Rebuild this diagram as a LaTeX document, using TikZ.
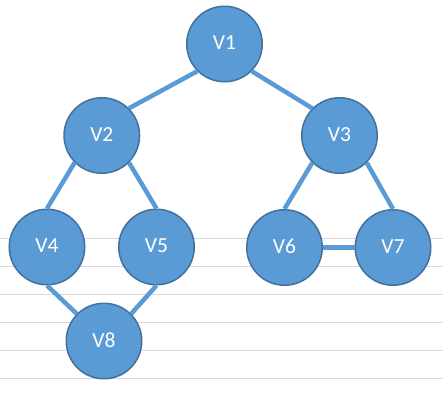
\documentclass[tikz,border=0pt]{standalone}
\usepackage{fontspec}
\setmainfont{Carlito}
\definecolor{vfill}{HTML}{5B9BD5}
\definecolor{vborder}{HTML}{41719C}
\definecolor{gridc}{HTML}{D9D9D9}
\tikzset{
  vertex/.style={circle, fill=vfill, draw=vborder, line width=1.5pt, minimum size=75.5pt, inner sep=0pt, text=white, font=\fontsize{21.5}{24}\selectfont},
  edgeline/.style={draw=vfill, line width=4.5pt},
  gridline/.style={draw=gridc, line width=1pt}
}
\begin{document}
\begin{tikzpicture}[x=1pt,y=-1pt]
\useasboundingbox (0,0) rectangle (443,394);
\foreach \gy in {238,266,294,322,350,378}{
  \draw[gridline] (0,\gy) -- (443,\gy);
}
\node[vertex] (v1) at (224.5,44) {\raisebox{2.5pt}{V1}};
\node[vertex] (v2) at (101.8,135.5) {\raisebox{2.5pt}{V2}};
\node[vertex] (v3) at (339.5,135.5) {\raisebox{2.5pt}{V3}};
\node[vertex] (v4) at (47,247) {\raisebox{2.5pt}{V4}};
\node[vertex] (v5) at (156.5,247) {\raisebox{2.5pt}{V5}};
\node[vertex] (v6) at (284.5,247.5) {\raisebox{2.5pt}{V6}};
\node[vertex] (v7) at (393,247.5) {\raisebox{2.5pt}{V7}};
\node[vertex] (v8) at (104,341) {\raisebox{2.5pt}{V8}};
\begin{scope}[on background layer/.style={}]
\end{scope}
\path[edgeline] (v1.south west) -- (v2.north east);
\path[edgeline] (v1.south east) -- (v3.north west);
\path[edgeline] (v2.south west) -- (v4.north);
\path[edgeline] (v2.south east) -- (v5.north);
\path[edgeline] (v3.south west) -- (v6.north);
\path[edgeline] (v3.south east) -- (v7.north);
\path[edgeline] (v4.south) -- (v8.north west);
\path[edgeline] (v5.south) -- (v8.north east);
\path[edgeline] (v6.east) -- (v7.west);
\end{tikzpicture}
\end{document}
